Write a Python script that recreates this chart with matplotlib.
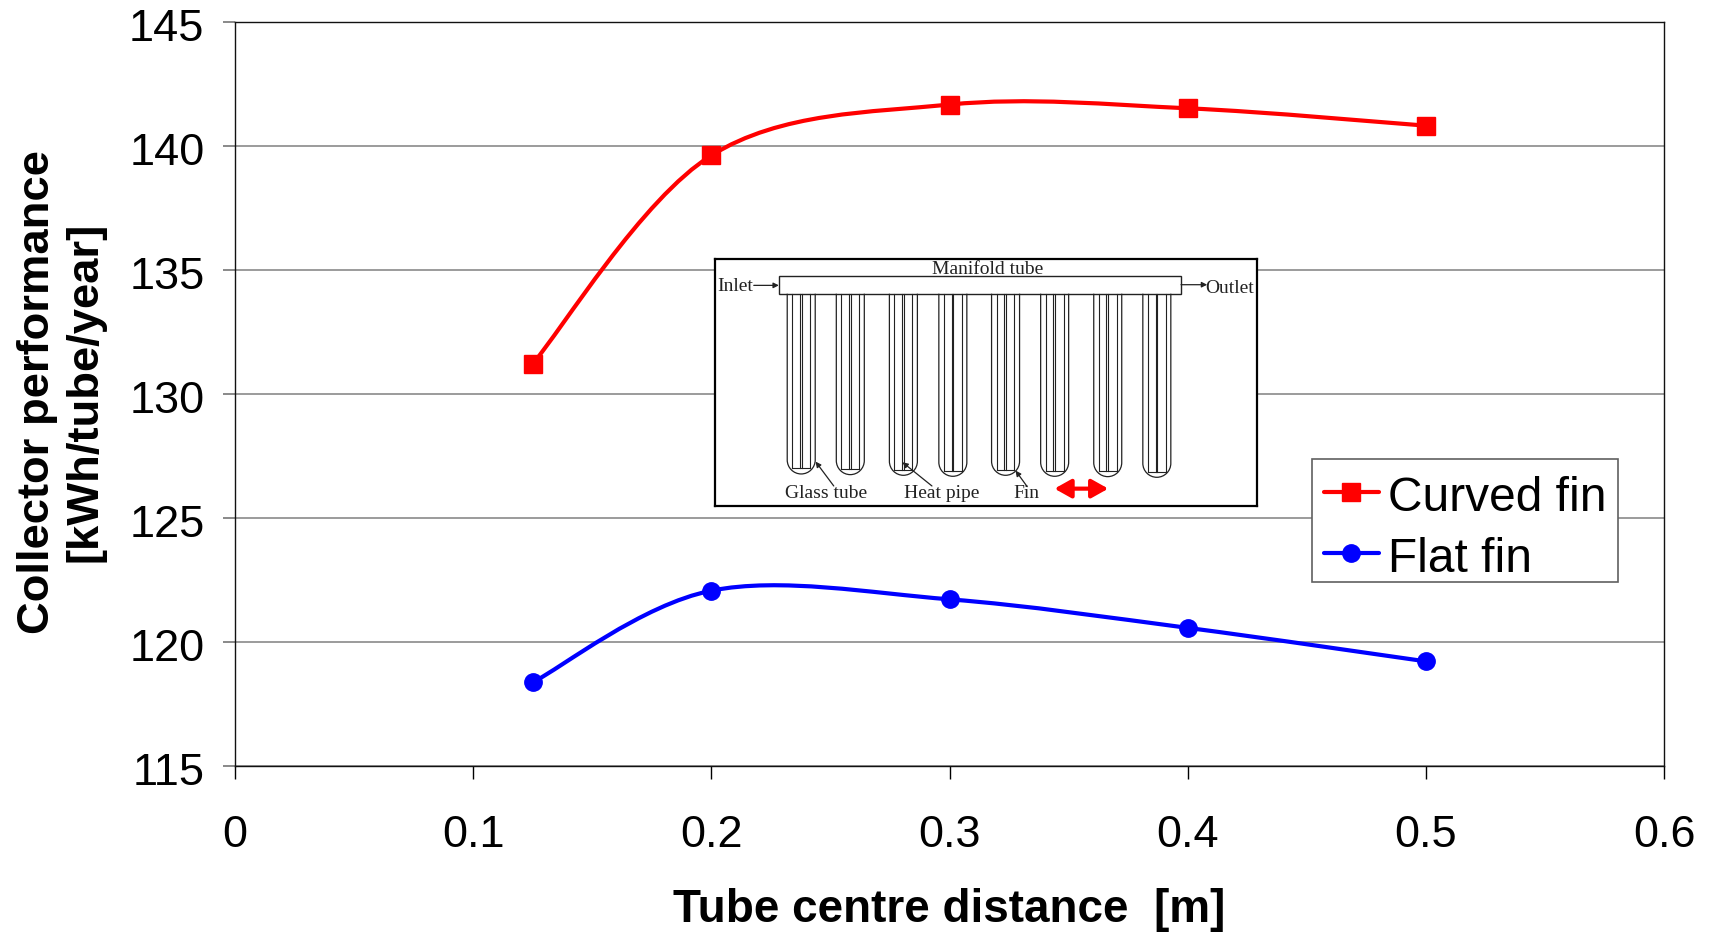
import matplotlib
matplotlib.use("Agg")
import matplotlib.pyplot as plt
from matplotlib.path import Path
from matplotlib.patches import PathPatch, Rectangle, FancyArrowPatch
from matplotlib.lines import Line2D
from matplotlib.transforms import ScaledTranslation

# data
distance = [0.125, 0.2, 0.3, 0.4, 0.5]
curved_fin = [131.2, 139.6, 141.65, 141.5, 140.8]
flat_fin = [118.35, 122.05, 121.7, 120.55, 119.2]
x_ticks = [0, 0.1, 0.2, 0.3, 0.4, 0.5, 0.6]
x_tick_labels = ["0", "0.1", "0.2", "0.3", "0.4", "0.5", "0.6"]
y_ticks = [115, 120, 125, 130, 135, 140, 145]

# inset sketch
tube_left = [240, 375, 521, 657, 802, 937, 1083, 1218]
tube_bottom = [672, 674, 676, 679, 676, 679, 680, 682]
fin_lines = [14, 35, 40, 63]

W, H = 1711, 932


def smooth_path(xs, ys):
    # same kind of smoothing as a spreadsheet line chart
    verts = [(xs[0], ys[0])]
    codes = [Path.MOVETO]
    n = len(xs)
    for i in range(n - 1):
        a = max(i - 1, 0)
        b = min(i + 2, n - 1)
        c1 = (xs[i] + (xs[i + 1] - xs[a]) / 6, ys[i] + (ys[i + 1] - ys[a]) / 6)
        c2 = (xs[i + 1] - (xs[b] - xs[i]) / 6, ys[i + 1] - (ys[b] - ys[i]) / 6)
        verts += [c1, c2, (xs[i + 1], ys[i + 1])]
        codes += [Path.CURVE4, Path.CURVE4, Path.CURVE4]
    return Path(verts, codes)


plt.rcParams["font.family"] = ["Liberation Sans", "DejaVu Sans"]

fig = plt.figure(figsize=(W / 100, H / 100), dpi=100)
ax = fig.add_axes([235 / W, 1 - 765.5 / H, (1664 - 235) / W, (765.5 - 21.5) / H])

ax.set_xlim(0, 0.6)
ax.set_ylim(115, 145)
ax.set_xticks(x_ticks)
ax.set_xticklabels(x_tick_labels)
ax.set_yticks(y_ticks)
ax.tick_params(axis="x", labelsize=32.5, length=9, width=1, pad=26.5)
ax.tick_params(axis="y", labelsize=32.5, length=9, width=1.3, color="#808080", pad=13)
# the y labels sit a little below their ticks
for lab in ax.get_yticklabels():
    lab.set_transform(lab.get_transform() + ScaledTranslation(0, -3.5 / 100, fig.dpi_scale_trans))
ax.grid(axis="y", color="#808080", lw=1.1)
ax.set_axisbelow(True)
for s in ax.spines.values():
    s.set_linewidth(1)
    s.set_color("#111111")

for vals, col, mk, ms in [(curved_fin, "#ff0000", "s", 13), (flat_fin, "#0000ff", "o", 12.5)]:
    ax.add_patch(PathPatch(smooth_path(distance, vals), fill=False, ec=col, lw=3, zorder=3))
    ax.plot(distance, vals, ls="none", marker=mk, ms=ms, color=col, mec=col, zorder=4, clip_on=False)

fig.text(870 * 1.0912 / W, 1 - 910 / H, "Tube centre distance  [m]", fontsize=33, fontweight="bold",
         ha="center", va="center")
fig.text(61 / W, 1 - 392 / H, "Collector performance\n[kWh/tube/year]", fontsize=32.7, fontweight="bold",
         ha="center", va="center", rotation=90, linespacing=1.2, multialignment="center")

# legend, the frame is drawn apart so that the rows can sit where they should
ax.add_patch(Rectangle((1312 / W, 1 - 582 / H), 306 / W, 123 / H, transform=fig.transFigure, fc="white",
                       ec="#606060", lw=1.2, zorder=5, clip_on=False))
handles = [
    Line2D([], [], color="#ff0000", lw=3, marker="s", ms=13, solid_capstyle="round"),
    Line2D([], [], color="#0000ff", lw=3, marker="o", ms=12.5, solid_capstyle="round"),
]
leg = ax.legend(handles, ["Curved fin", "Flat fin"], loc="upper left", fontsize=34.5,
                bbox_to_anchor=(1324 / W, 1 - 472 / H), bbox_transform=fig.transFigure,
                frameon=False, borderaxespad=0, borderpad=0,
                handlelength=1.14, handleheight=1.08, handletextpad=0.19, labelspacing=0.26)
leg.set_zorder(6)

# inset sketch, drawn on its own axes
ins = fig.add_axes([714.5 / W, 1 - 506 / H, (1257 - 714.5) / W, (506 - 259) / H], zorder=5)
ins.set_xlim(40, 1532)
ins.set_ylim(768, 28)
ins.set_xticks([])
ins.set_yticks([])
for s in ins.spines.values():
    s.set_linewidth(1.6)
    s.set_color("black")

line_col = "#222222"
ins.add_patch(Rectangle((217, 80), 1106, 52, fc="white", ec=line_col, lw=1))
for left, bottom in zip(tube_left, tube_bottom):
    right = left + 77
    mid = left + 38.5
    start = bottom - 42
    k = 0.5523
    tube = Path([(left, 132), (left, start),
                 (left, start + 42 * k), (mid - 38.5 * k, bottom), (mid, bottom),
                 (mid + 38.5 * k, bottom), (right, start + 42 * k), (right, start),
                 (right, 132)],
                [Path.MOVETO, Path.LINETO, Path.CURVE4, Path.CURVE4, Path.CURVE4,
                 Path.CURVE4, Path.CURVE4, Path.CURVE4, Path.LINETO])
    ins.add_patch(PathPatch(tube, fill=False, ec=line_col, lw=0.9))
    for off in fin_lines:
        ins.plot([left + off, left + off], [132, bottom - 17], color=line_col, lw=0.8)
    ins.plot([left + fin_lines[0], left + fin_lines[-1]], [bottom - 17, bottom - 17], color=line_col, lw=0.8)

sketch_font = ["Liberation Serif", "DejaVu Serif"]
for x, y, s in [(790, 60, "Manifold tube"), (97, 110, "Inlet"), (1458, 115, "Outlet"),
                (346, 730, "Glass tube"), (665, 730, "Heat pipe"), (898, 730, "Fin")]:
    ins.text(x, y, s, fontsize=14, family=sketch_font, color=line_col, ha="center", va="center")

for start, end in [((148, 107), (217, 107)), ((1323, 105), (1395, 105)), ((368, 708), (318, 635)),
                   ((638, 708), (557, 637)), ((900, 710), (868, 662))]:
    ins.add_patch(FancyArrowPatch(start, end, arrowstyle="-|>", mutation_scale=8, lw=0.9, color=line_col,
                                  shrinkA=0, shrinkB=0))
ins.add_patch(FancyArrowPatch((975, 716), (1123, 716), arrowstyle="<|-|>,head_length=0.5,head_width=0.28",
                              mutation_scale=20, lw=3, color="#ff0000", shrinkA=0, shrinkB=0))

fig.savefig("out.png", dpi=100)
